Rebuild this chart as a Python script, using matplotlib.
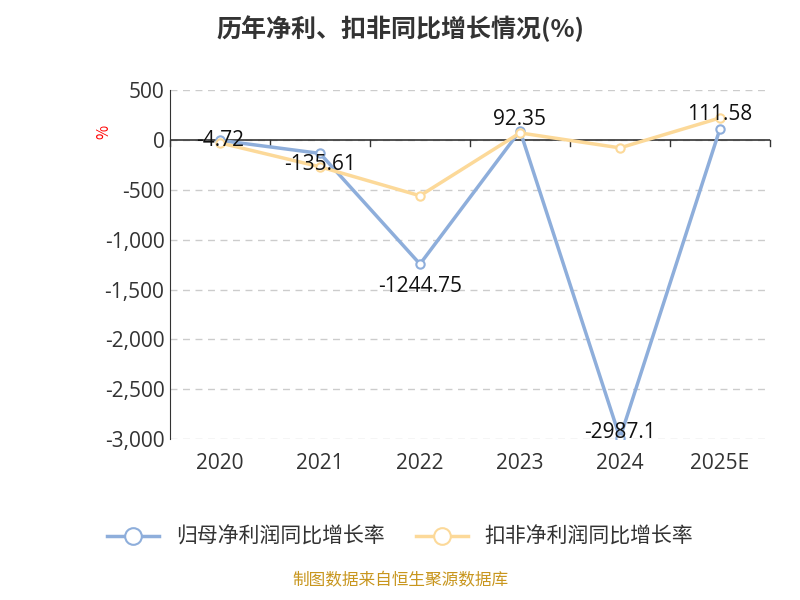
import matplotlib
matplotlib.use("Agg")
import matplotlib.pyplot as plt

plt.rcParams['font.family'] = ['Noto Sans CJK SC', 'DejaVu Sans']

years = ["2020", "2021", "2022", "2023", "2024", "2025E"]
net_growth = [-4.72, -135.61, -1244.75, 92.35, -2987.1, 111.58]
deducted_growth = [-30, -270, -560, 70, -80, 220]
net_labels = ["-4.72", "-135.61", "-1244.75", "92.35", "-2987.1", "111.58"]

fig = plt.figure(figsize=(8, 6), dpi=100)
ax = fig.add_axes([0.2125, 0.268, 0.75, 0.582])
x = range(len(years))
c1 = "#8eaedb"
c2 = "#fcd999"
ax.plot(x, net_growth, color=c1, lw=2.5, marker='o', ms=6, mfc='white', mec=c1, mew=1.5, label="归母净利润同比增长率", zorder=3)
ax.plot(x, deducted_growth, color=c2, lw=2.5, marker='o', ms=6, mfc='white', mec=c2, mew=1.5, label="扣非净利润同比增长率", zorder=3)
dys = [0, -8, -16, 8, 4, 10]
for i, (v, t) in enumerate(zip(net_growth, net_labels)):
    ax.annotate(t, (i, v), xytext=(0, dys[i]), textcoords='offset points',
                ha='center', va='center', fontsize=15, color='#111111', zorder=4,
                family=['Open Sans', 'DejaVu Sans'])
ax.set_xlim(-0.5, 5.5)
ax.set_ylim(-3000, 500)
ax.set_yticks(range(-3000, 501, 500))
ax.set_yticklabels([f"{v:,}" for v in range(-3000, 501, 500)], fontsize=15, color='#333333',
                   family=['Open Sans', 'DejaVu Sans'])
ax.set_xticks(list(x))
ax.set_xticklabels(years, fontsize=15, color='#333333', family=['Open Sans', 'DejaVu Sans'])
ax.grid(axis='y', ls=(0, (5, 4)), color='#cccccc', lw=1)
for s in ['top', 'right', 'bottom']:
    ax.spines[s].set_visible(False)
ax.spines['left'].set_color('#333333')
ax.axhline(0, color='#333333', lw=1.2)
for xi in [i + 0.5 for i in range(-1, 6)]:
    ax.plot([xi, xi], [0, -60], color='#333333', lw=1, clip_on=False)
ax.tick_params(axis='x', length=0, pad=10)
ax.tick_params(axis='y', length=0, pad=4)
ax.set_axisbelow(True)
fig.text(0.13, 0.78, "%", color='red', fontsize=11, rotation=90, ha='center', va='center')
fig.suptitle("历年净利、扣非同比增长情况(%)", fontsize=18, fontweight='bold', color='#333333', y=0.975)
fig.legend(loc='center', bbox_to_anchor=(0.5, 0.105), ncol=2, frameon=False, fontsize=15,
           handlelength=2.5, markerscale=2, columnspacing=1.5, labelcolor='#333333')
fig.text(0.5, 0.018, "制图数据来自恒生聚源数据库", color='#c8961e', fontsize=12, ha='center', va='bottom')
fig.savefig("out.png", dpi=100)
